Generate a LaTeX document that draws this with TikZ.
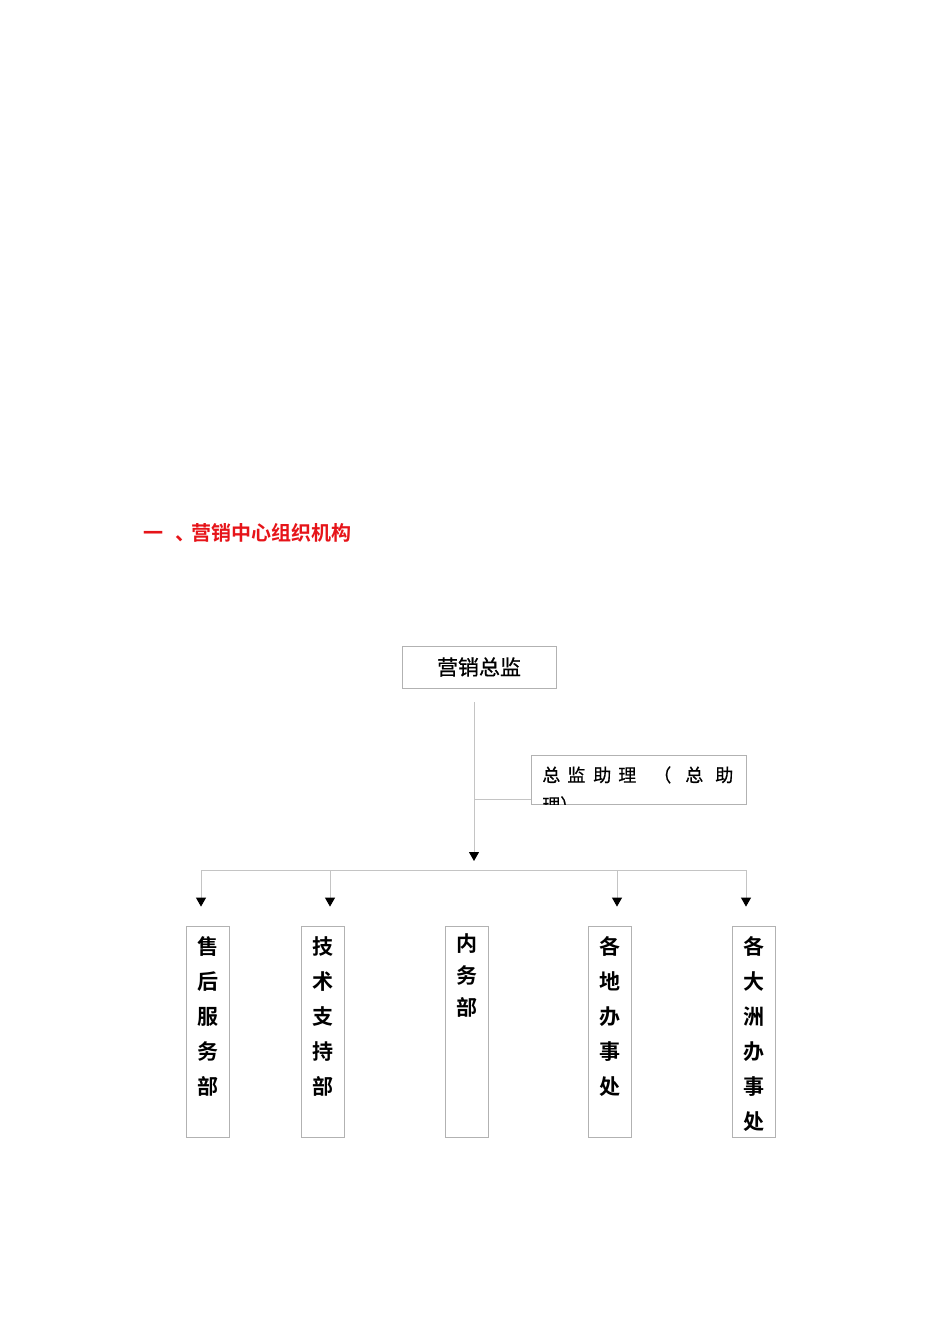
\documentclass[tikz,border=0pt]{standalone}
\usepackage{fontspec}
\setmainfont{Noto Sans CJK SC}
\newfontfamily\cjk[FakeBold=0.6]{Noto Sans CJK SC}
\newfontfamily\cjkb{Noto Sans CJK SC Bold}
\usepackage{tikz}
\usetikzlibrary{arrows.meta,positioning,calc}
\definecolor{boxgray}{RGB}{178,178,178}
\definecolor{linegray}{RGB}{196,196,196}
\definecolor{titlered}{RGB}{230,20,25}
\tikzstyle{box} = [draw=boxgray, line width=0.8pt, inner sep=0pt]
\tikzstyle{dept} = [box, minimum width=43pt, minimum height=211pt]
\tikzstyle{vtext} = [anchor=north, align=center, inner sep=0pt, font=\cjkb\fontsize{21}{35}\selectfont]
\tikzstyle{line} = [draw=linegray, line width=0.9pt]
\tikzstyle{drop} = [line, -{Triangle[width=10pt,length=9pt,color=black]}]
\begin{document}
\begin{tikzpicture}[x=1pt,y=-1pt]
  \useasboundingbox (0,0) rectangle (950,1344);

  % title
  \node (title) [anchor=west, text=titlered, inner sep=0pt, font=\cjkb\fontsize{20}{24}\selectfont] at (143,533) {一\hspace{12pt}、\hspace{-4pt}营销中心组织机构};

  % top
  \node (chief) [box, minimum width=154pt, minimum height=42pt, font=\cjk\fontsize{21}{24}\selectfont] at (479,667) {营销总监};
  \node (asst) [box, minimum width=215pt, minimum height=49pt] at (638.5,779.5) {};
  \begin{scope}
    \clip (asst.south west) rectangle (asst.north east);
    \node (assttext) [anchor=north west, align=left, inner sep=0pt, font=\cjk\fontsize{18}{30}\selectfont] at ($(asst.north west)+(11.5,11.5)$)
      {总\hspace{7pt}监\hspace{8pt}助\hspace{7pt}理\hspace{17pt}（\hspace{14pt}总\hspace{12pt}助\\理）};
  \end{scope}

  % bus
  \coordinate (hub) at (474,870);
  \coordinate (ajoin) at (474,799);
  \coordinate (b1) at (201,870);
  \coordinate (b2) at (330,870);
  \coordinate (b4) at (617,870);
  \coordinate (b5) at (746,870);

  % departments
  \node (d1) [dept] at (207.5,1031.5) {};
  \node (d2) [dept] at (322.5,1031.5) {};
  \node (d3) [dept] at (466.5,1031.5) {};
  \node (d4) [dept] at (609.5,1031.5) {};
  \node (d5) [dept] at (753.5,1031.5) {};
  \node (t1) [vtext] at ($(d1.north)+(0,11)$) {售\\后\\服\\务\\部};
  \node (t2) [vtext] at ($(d2.north)+(0,11)$) {技\\术\\支\\持\\部};
  \node (t3) [vtext, font=\cjkb\fontsize{21}{32}\selectfont] at ($(d3.north)+(0,8)$) {内\\务\\部};
  \node (t4) [vtext] at ($(d4.north)+(0,11)$) {各\\地\\办\\事\\处};
  \node (t5) [vtext] at ($(d5.north)+(0,11)$) {各\\大\\洲\\办\\事\\处};

  % connectors
  \draw [drop, shorten <=14pt, shorten >=9pt] (hub |- chief.south) -- (hub);
  \draw [line] (ajoin) -- (ajoin -| asst.west);
  \draw [line] (b1) -- (b5);
  \foreach \b/\d in {b1/d1, b2/d2, b4/d4, b5/d5}
    \draw [drop, shorten >=19pt] (\b) -- (\b |- \d.north);
\end{tikzpicture}
\end{document}
